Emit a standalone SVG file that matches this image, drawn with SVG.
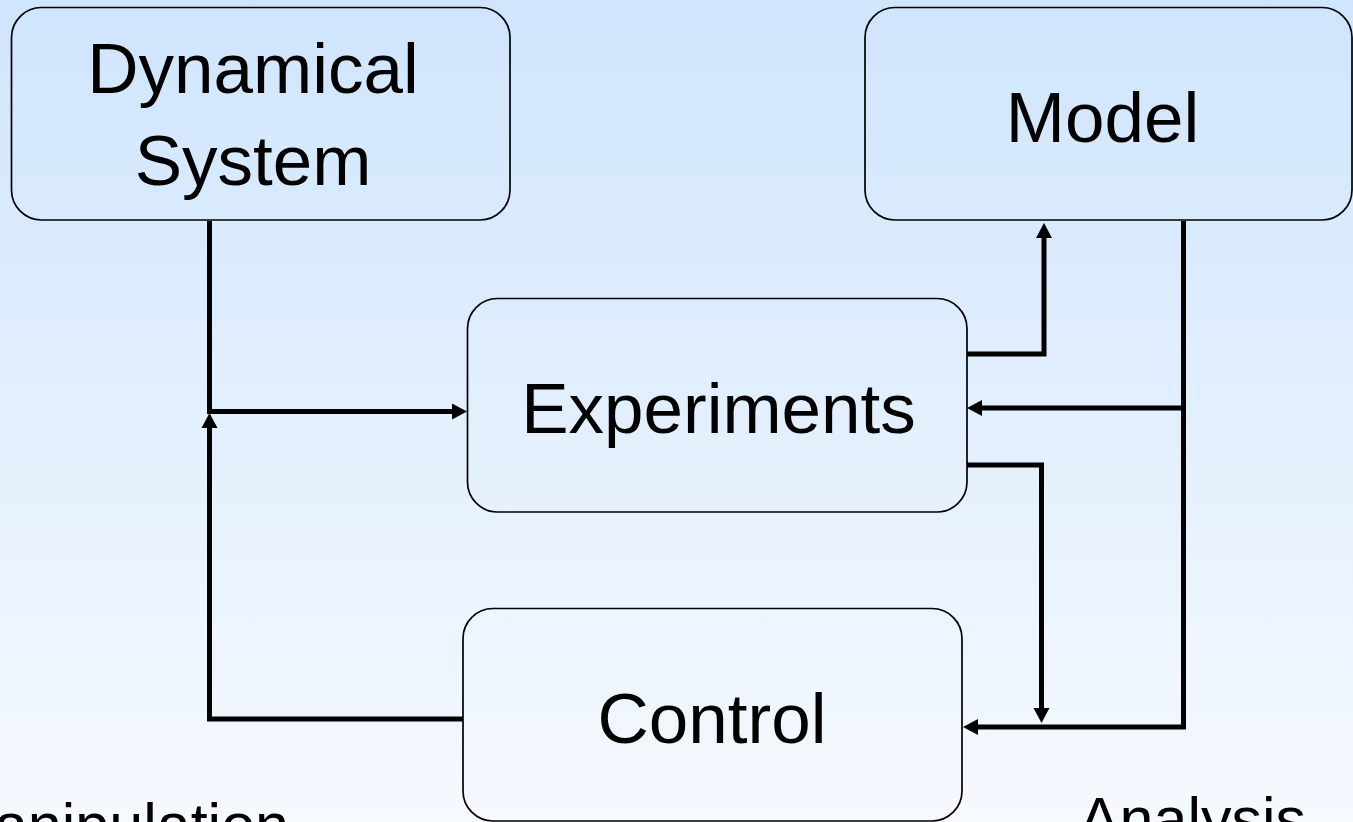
<svg xmlns="http://www.w3.org/2000/svg" width="1353" height="822" viewBox="0 0 1353 822">
  <defs>
    <linearGradient id="bg" x1="0" y1="0" x2="0" y2="1">
      <stop offset="0" stop-color="#cfe5fd"/>
      <stop offset="1" stop-color="#f6f9fe"/>
    </linearGradient>
    <marker id="arr" markerUnits="userSpaceOnUse" markerWidth="17" markerHeight="17" refX="3" refY="8" orient="auto" viewBox="0 0 17 17" overflow="visible">
      <path d="M0,0 L15,8 L0,16 z" fill="#000"/>
    </marker>
    <style>
      .box { fill: none; stroke: #000; stroke-width: 1.7; }
      .lbl { font-family: "Liberation Sans", Arial, sans-serif; font-size: 71px; fill: #000; text-anchor: middle; }
      .sub { font-family: "Liberation Sans", Arial, sans-serif; font-size: 61px; fill: #000; }
      .conn { fill: none; stroke: #000; stroke-width: 5; stroke-linejoin: miter; }
    </style>
  </defs>
  <rect x="0" y="0" width="1353" height="822" fill="url(#bg)"/>

  <g id="connectors">
    <path class="conn" d="M209.5,221 V411.5 H455" marker-end="url(#arr)"/>
    <path class="conn" d="M463,719 H209.5 V425" marker-end="url(#arr)"/>
    <path class="conn" d="M967,354 H1044 V235" marker-end="url(#arr)"/>
    <path class="conn" d="M1183.5,221 V727 H975" marker-end="url(#arr)"/>
    <path class="conn" d="M1183.5,408 H979" marker-end="url(#arr)"/>
    <path class="conn" d="M967,465 H1041.5 V711" marker-end="url(#arr)"/>
  </g>

  <g id="dynamical-system">
    <rect class="box" x="11.5" y="7.5" width="498.5" height="212.5" rx="30"/>
    <text class="lbl" x="253" y="93">Dynamical</text>
    <text class="lbl" x="253" y="185">System</text>
  </g>

  <g id="model">
    <rect class="box" x="865" y="7.5" width="487" height="212.5" rx="30"/>
    <text class="lbl" x="1102.5" y="142">Model</text>
  </g>

  <g id="experiments">
    <rect class="box" x="467.5" y="298.5" width="499.5" height="213.5" rx="30"/>
    <text class="lbl" x="718.5" y="433">Experiments</text>
  </g>

  <g id="control">
    <rect class="box" x="463" y="608.5" width="499" height="212.5" rx="30"/>
    <text class="lbl" x="712" y="743">Control</text>
  </g>

  <g id="labels">
    <text class="sub" x="289" y="846" text-anchor="end">Manipulation</text>
    <text class="sub" x="1192.5" y="840" text-anchor="middle">Analysis</text>
  </g>
</svg>
